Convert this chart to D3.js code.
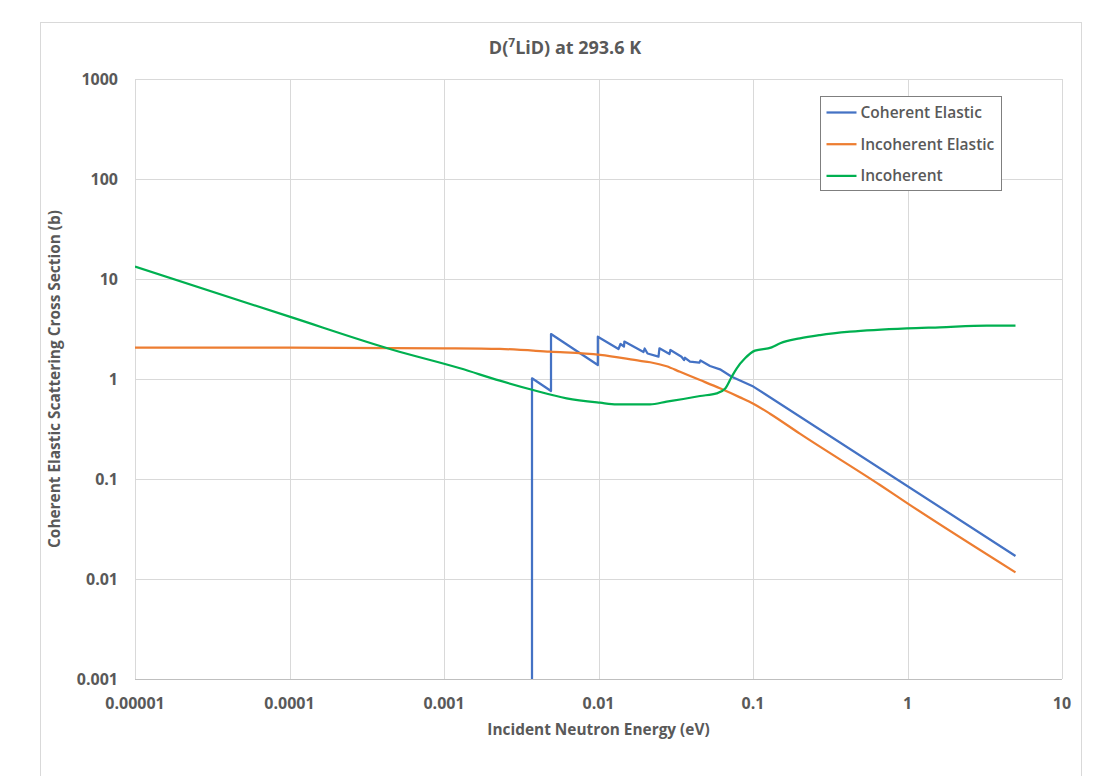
<!DOCTYPE html>
<html>
<head>
<meta charset="utf-8">
<script src="https://cdn.jsdelivr.net/npm/d3@7"></script>
<style>
    body { margin: 0; background: #fff; }
    text { font-family: "Open Sans", "DejaVu Sans", sans-serif; fill: #595959; }
</style>
</head>
<body>
<svg id="chart" width="1102" height="776"></svg>
<script>
/**
 * Data.
 */
const seriesNames = ['Coherent Elastic', 'Incoherent Elastic', 'Incoherent'];
const seriesColors = ['#4472C4', '#ED7D31', '#00B050'];

const xTicks = [1e-5, 1e-4, 1e-3, 1e-2, 1e-1, 1, 10];
const xTickLabels = ['0.00001', '0.0001', '0.001', '0.01', '0.1', '1', '10'];
const yTicks = [1e-3, 1e-2, 1e-1, 1, 10, 100, 1000];
const yTickLabels = ['0.001', '0.01', '0.1', '1', '10', '100', '1000'];

// Coherent elastic (Bragg edges)
const coherentE = [0.003712, 0.003712, 0.004927, 0.004927, 0.0099, 0.0099, 0.01347, 0.01388, 0.01462, 0.0147,
    0.01956, 0.0199, 0.02077, 0.02445, 0.0248, 0.02881, 0.0292, 0.03445, 0.0358, 0.0363, 0.03911, 0.04493,
    0.0457, 0.05268, 0.06114, 0.07279, 0.1005, 5.0];
const coherentXS = [0.001, 1.016, 0.759, 2.818, 1.38, 2.649, 1.995, 2.239, 2.113, 2.371,
    1.862, 2.018, 1.799, 1.671, 2.028, 1.778, 1.95, 1.671, 1.549, 1.63, 1.489, 1.455,
    1.53, 1.349, 1.25, 1.054, 0.84, 0.017];

// Incoherent elastic
const incohElasticE = [1e-5, 1e-4, 1e-3, 0.0023, 0.00485, 0.01023, 0.0186, 0.0216, 0.0276, 0.0337, 0.0454,
    0.0611, 0.0824, 0.1005, 0.1288, 0.201, 0.664, 1.0, 5.0];
const incohElasticXS = [2.06, 2.06, 2.03, 2.0, 1.875, 1.74, 1.52, 1.47, 1.34, 1.18, 0.977,
    0.807, 0.655, 0.565, 0.45, 0.284, 0.087, 0.0571, 0.01166];

// Incoherent (inelastic)
const incoherentE = [1e-5, 1e-4, 4.7e-4, 1.27e-3, 2.3e-3, 3.77e-3, 6.22e-3, 0.01023, 0.01312, 0.02155, 0.0276,
    0.0354, 0.0454, 0.0582, 0.0659, 0.0728, 0.0785, 0.0888, 0.103, 0.132, 0.15, 0.201, 0.272, 0.425,
    0.99, 1.62, 3.26, 5.0];
const incoherentXS = [13.3, 4.2, 1.95, 1.28, 0.962, 0.776, 0.641, 0.579, 0.558, 0.558, 0.593,
    0.631, 0.676, 0.719, 0.8, 1.054, 1.28, 1.61, 1.92, 2.07, 2.28, 2.55, 2.75, 2.97,
    3.21, 3.29, 3.41, 3.41];

/**
 * Visual configs.
 */
const visWidth = 1102, visHeight = 776;
const margin = { top: 79, right: 40, bottom: 97, left: 135 };
const width = visWidth - margin.left - margin.right,
    height = visHeight - margin.top - margin.bottom;

const svg = d3.select('#chart');

// Chart area border
svg.append('rect')
    .attr('x', 40.5).attr('y', 22.5)
    .attr('width', 1041).attr('height', 800)
    .attr('fill', '#fff').attr('stroke', '#d9d9d9');

const g = svg.append('g').attr('transform', 'translate(' + margin.left + ',' + margin.top + ')');

const x = d3.scaleLog().domain([1e-5, 10]).range([0, width]);
const y = d3.scaleLog().domain([1e-3, 1000]).range([height, 0]);

/**
 * Grid.
 */
g.append('g').attr('class', 'grid-x')
    .selectAll('line').data(xTicks).join('line')
    .attr('x1', d => Math.round(x(d)) + 0.5).attr('x2', d => Math.round(x(d)) + 0.5)
    .attr('y1', 0).attr('y2', height)
    .attr('stroke', '#d9d9d9');

g.append('g').attr('class', 'grid-y')
    .selectAll('line').data(yTicks).join('line')
    .attr('x1', 0).attr('x2', width)
    .attr('y1', d => Math.round(y(d)) + 0.5).attr('y2', d => Math.round(y(d)) + 0.5)
    .attr('stroke', d => d === yTicks[0] ? '#bfbfbf' : '#d9d9d9');

/**
 * Axes labels.
 */
g.append('g').attr('class', 'x-labels')
    .selectAll('text').data(xTicks).join('text')
    .attr('x', d => x(d)).attr('y', height + 30)
    .attr('text-anchor', 'middle')
    .attr('font-size', 16).attr('font-weight', 'bold')
    .text((d, i) => xTickLabels[i]);

g.append('g').attr('class', 'y-labels')
    .selectAll('text').data(yTicks).join('text')
    .attr('x', -17).attr('y', d => y(d) + 6)
    .attr('text-anchor', 'end')
    .attr('font-size', 16).attr('font-weight', 'bold')
    .text((d, i) => yTickLabels[i]);

g.append('text')
    .attr('x', width / 2).attr('y', height + 56)
    .attr('text-anchor', 'middle')
    .attr('font-size', 15.4).attr('font-weight', 'bold')
    .text('Incident Neutron Energy (eV)');

g.append('text')
    .attr('transform', 'translate(-75,' + (height / 2) + ') rotate(-90)')
    .attr('text-anchor', 'middle')
    .attr('font-size', 15.4).attr('font-weight', 'bold')
    .text('Coherent Elastic Scattering Cross Section (b)');

// Title with superscript
const title = svg.append('text')
    .attr('x', 565).attr('y', 54)
    .attr('text-anchor', 'middle')
    .attr('font-size', 18).attr('font-weight', 'bold');
title.append('tspan').text('D(');
title.append('tspan').attr('dy', -7).attr('font-size', 12).text('7');
title.append('tspan').attr('dy', 7).text('LiD) at 293.6 K');

/**
 * Series.
 */
const series = [
    { name: seriesNames[0], color: seriesColors[0], curve: d3.curveLinear,
        values: coherentE.map((e, i) => [e, coherentXS[i]]) },
    { name: seriesNames[1], color: seriesColors[1], curve: d3.curveMonotoneX,
        values: incohElasticE.map((e, i) => [e, incohElasticXS[i]]) },
    { name: seriesNames[2], color: seriesColors[2], curve: d3.curveMonotoneX,
        values: incoherentE.map((e, i) => [e, incoherentXS[i]]) }
];

g.append('clipPath').attr('id', 'plot-clip')
    .append('rect').attr('width', width).attr('height', height + 1);

g.append('g').attr('class', 'series').attr('clip-path', 'url(#plot-clip)')
    .selectAll('path').data(series).join('path')
    .attr('fill', 'none')
    .attr('stroke', d => d.color)
    .attr('stroke-width', 2.25)
    .attr('stroke-linejoin', 'round')
    .attr('d', d => d3.line().curve(d.curve).x(p => x(p[0])).y(p => y(p[1]))(d.values));

/**
 * Legend.
 */
const legend = svg.append('g').attr('class', 'legend').attr('transform', 'translate(820.5,96.5)');
legend.append('rect')
    .attr('width', 181).attr('height', 94)
    .attr('fill', '#fff').attr('stroke', '#7f7f7f');

const items = legend.selectAll('.item').data(series).join('g')
    .attr('class', 'item')
    .attr('transform', (d, i) => 'translate(0,' + (16 + i * 31.7) + ')');
items.append('line')
    .attr('x1', 6).attr('x2', 36)
    .attr('stroke', d => d.color).attr('stroke-width', 2.25);
items.append('text')
    .attr('x', 40).attr('y', 5.5)
    .attr('font-size', 15.5).attr('font-weight', 600)
    .text(d => d.name);
</script>
</body>
</html>
